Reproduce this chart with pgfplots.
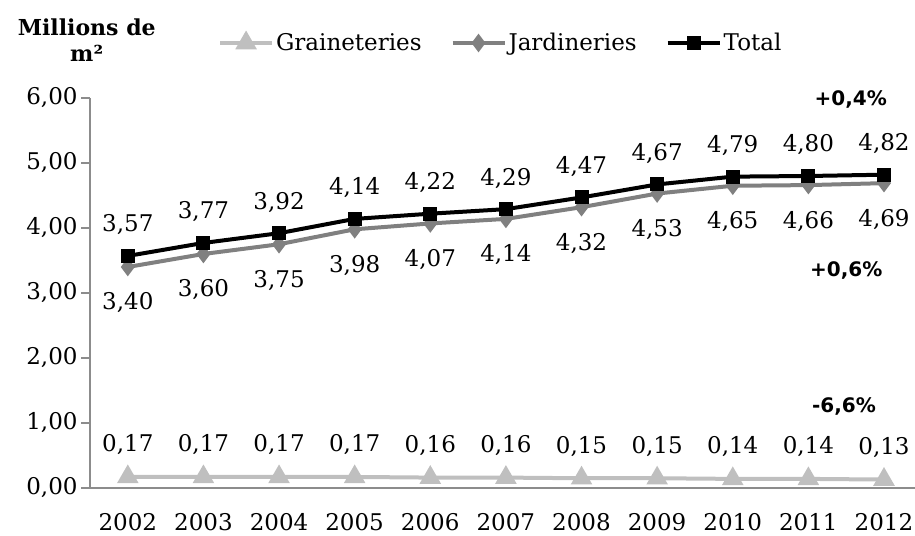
\documentclass[border=0pt]{standalone}
\usepackage{fontspec}
\usepackage{pgfplots}
\pgfplotsset{compat=1.18}
\newfontfamily\numfont{DejaVu Serif}
\newfontfamily\annfont{DejaVu Sans}
\definecolor{cgrain}{RGB}{191,191,191}
\definecolor{cjard}{RGB}{128,128,128}
\definecolor{caxis}{RGB}{140,140,140}
\pgfplotstableread{
x y lab
2002 0.17 0,17
2003 0.17 0,17
2004 0.17 0,17
2005 0.17 0,17
2006 0.16 0,16
2007 0.16 0,16
2008 0.15 0,15
2009 0.15 0,15
2010 0.14 0,14
2011 0.14 0,14
2012 0.13 0,13
}\grain
\pgfplotstableread{
x y lab
2002 3.40 3,40
2003 3.60 3,60
2004 3.75 3,75
2005 3.98 3,98
2006 4.07 4,07
2007 4.14 4,14
2008 4.32 4,32
2009 4.53 4,53
2010 4.65 4,65
2011 4.66 4,66
2012 4.69 4,69
}\jard
\pgfplotstableread{
x y lab
2002 3.57 3,57
2003 3.77 3,77
2004 3.92 3,92
2005 4.14 4,14
2006 4.22 4,22
2007 4.29 4,29
2008 4.47 4,47
2009 4.67 4,67
2010 4.79 4,79
2011 4.80 4,80
2012 4.82 4,82
}\total
\begin{document}
\begin{tikzpicture}
\useasboundingbox (0,0) rectangle (915bp,536bp);
\begin{axis}[
  at={(90bp,48bp)}, anchor=south west,
  scale only axis, width=825bp, height=390bp,
  xmin=2001.5, xmax=2012.41, ymin=0, ymax=6,
  axis x line=bottom, axis y line=left,
  axis line style={-, caxis, line width=1.2bp},
  xtick={2002,...,2012},
  xticklabels={2002,2003,2004,2005,2006,2007,2008,2009,2010,2011,2012},
  major x tick style={draw=none},
  ytick={0,1,2,3,4,5,6},
  yticklabels={{0,00},{1,00},{2,00},{3,00},{4,00},{5,00},{6,00}},
  tick style={caxis, line width=1.2bp},
  major tick length=9bp,
  tick align=outside,
  ticklabel style={font=\numfont\fontsize{23bp}{26bp}\selectfont},
  xticklabel style={yshift=-13bp},
  yticklabel style={xshift=0bp},
  clip=false,
  legend columns=3,
  legend style={draw=none, fill=none, at={(0.155,1.141)}, anchor=west,
    font=\numfont\fontsize{23bp}{26bp}\selectfont,
    /tikz/every even column/.append style={column sep=27bp},
    inner sep=0pt},
  legend image code/.code={\draw[mark repeat=2,mark phase=2] plot coordinates {(0bp,0bp) (26bp,0bp) (52bp,0bp)};},
  nodes near coords,
  point meta=explicit symbolic,
  every node near coord/.append style={font=\numfont\fontsize{23bp}{26bp}\selectfont, anchor=center, text=black},
]
\addplot[cgrain, line width=4bp, mark=triangle*, mark size=8.5bp, mark options={solid},
  every node near coord/.append style={yshift=32bp}] table[x=x,y=y,meta=lab] {\grain};
\addlegendentry{Graineteries}
\addplot[cjard, line width=4bp, mark=diamond*, mark size=6bp,
  every node near coord/.append style={yshift=-36bp}] table[x=x,y=y,meta=lab] {\jard};
\addlegendentry{Jardineries}
\addplot[black, line width=4bp, mark=square*, mark size=5bp,
  every node near coord/.append style={yshift=31bp}] table[x=x,y=y,meta=lab] {\total};
\addlegendentry{Total}
\node[font=\annfont\bfseries\fontsize{20bp}{24bp}\selectfont] at (axis cs:2011.56,5.97) {+0,4\%};
\node[font=\annfont\bfseries\fontsize{20bp}{24bp}\selectfont] at (axis cs:2011.5,3.35) {+0,6\%};
\node[font=\annfont\bfseries\fontsize{20bp}{24bp}\selectfont] at (axis cs:2011.47,1.25) {-6,6\%};
\node[font=\numfont\bfseries\fontsize{22bp}{26bp}\selectfont, align=center] at (rel axis cs:-0.004,1.149) {Millions de\\m²};
\end{axis}
\end{tikzpicture}
\end{document}
